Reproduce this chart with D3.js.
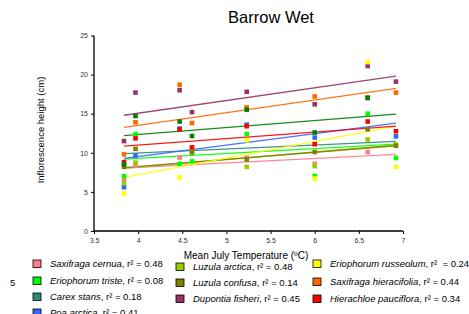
<!DOCTYPE html>
<html>
<head>
<meta charset="utf-8">
<script src="https://cdn.jsdelivr.net/npm/d3@7"></script>
<style>
  body { margin: 0; background: #fff; }
  text { font-family: Arial, "Liberation Sans", sans-serif; }
</style>
</head>
<body>
<svg id="chart" width="469" height="314"></svg>
<script>
// July temperatures of the sampled years (x positions of the point columns)
const temps = [3.84, 3.97, 4.47, 4.61, 5.23, 6.0, 6.6, 6.92];

const species = ["Saxifraga cernua", "Eriophorum triste", "Carex stans", "Poa arctica",
  "Luzula arctica", "Luzula confusa", "Dupontia fisheri",
  "Eriophorum russeolum", "Saxifraga hieracifolia", "Hierachloe pauciflora", ""];
const r2Labels = ["0.48", "0.08", "0.18", "0.41", "0.48", "0.14", "0.45", "0.24", "0.44", "0.34", ""];
const colors = ["#ff7c8c", "#00ff00", "#2a8a7a", "#3366ff", "#99cc00", "#808000", "#993366",
  "#ffff00", "#ff6600", "#ff0000", "#008000"];

// inflorescence height per species, one value per temperature (null = no point)
const saxCernua   = [6.6, 8.4, 9.4, null, 9.35, 8.6, 10.1, null];
const erioTriste  = [7.0, 12.4, 8.6, 8.9, 12.4, 7.05, 15.0, 9.35];
const carexStans  = [null, null, null, null, null, null, null, null];
const poaArctica  = [5.6, 9.65, 13.1, null, 13.6, 11.95, null, 12.1];
const luzArctica  = [6.1, 8.75, null, 10.3, 8.2, 8.3, 11.7, 11.05];
const luzConfusa  = [8.2, 10.5, null, 10.05, 9.15, 10.1, 13.0, 10.9];
const dupFisheri  = [11.5, 17.7, 18.0, 15.2, 17.8, 16.2, 21.1, 19.1];
const erioRuss    = [4.8, null, 6.85, null, 11.6, 6.7, 21.6, 8.2];
const saxHierac   = [9.8, 13.9, 18.7, 13.8, 15.8, 17.2, 17.1, 17.7];
const hierPauci   = [8.8, 11.85, 13.0, 10.7, 13.4, 11.1, 14.0, 12.75];
const darkGreen   = [8.5, 14.7, 14.0, 12.15, 15.5, 12.6, 17.0, null];

const heights = [saxCernua, erioTriste, carexStans, poaArctica, luzArctica, luzConfusa,
  dupFisheri, erioRuss, saxHierac, hierPauci, darkGreen];

// fitted regression line, value at first and last temperature
const fitStart = [8.05, 9.2, 9.9, 9.3, 8.0, 8.1, 14.8, 6.85, 13.25, 10.85, 12.2];
const fitEnd   = [9.8, 11.1, 11.45, 13.8, 11.0, 10.9, 19.8, 13.4, 18.25, 13.4, 14.95];

const xTicks = [3.5, 4, 4.5, 5, 5.5, 6, 6.5, 7];
const yTicks = [0, 5, 10, 15, 20, 25];

const svg = d3.select("#chart");
const x = d3.scaleLinear().domain([3.5, 7]).range([94, 403]);
const y = d3.scaleLinear().domain([0, 25]).range([231, 35.5]);

// axes
const xAxis = svg.append("g")
  .attr("transform", `translate(0,${y(0)})`)
  .call(d3.axisBottom(x).tickValues(xTicks).tickSize(3).tickPadding(4)
    .tickFormat(d => d3.format("")(d)));
const yAxis = svg.append("g")
  .attr("transform", `translate(${x(3.5)},0)`)
  .call(d3.axisLeft(y).tickValues(yTicks).tickSize(3).tickPadding(3));

[xAxis, yAxis].forEach(a => {
  a.select(".domain").attr("stroke", "#000").attr("stroke-width", 1.3);
  a.selectAll(".tick line").attr("stroke", "#000");
  a.selectAll(".tick text").attr("font-size", 7).attr("fill", "#333")
    .attr("font-family", "Arial, 'Liberation Sans', sans-serif");
});
yAxis.select(".domain").attr("d", `M0,${y(25)}V${y(0)}`);
xAxis.select(".domain").attr("d", `M${x(3.5)},0H${x(7)}`);

// fit lines
const lines = svg.append("g");
species.forEach((s, i) => {
  lines.append("line")
    .attr("x1", x(temps[0])).attr("y1", y(fitStart[i]))
    .attr("x2", x(temps[temps.length - 1])).attr("y2", y(fitEnd[i]))
    .attr("stroke", colors[i])
    .attr("stroke-width", 1.3)
    .attr("opacity", 0.9);
});

// points
const pts = svg.append("g");
const sz = 4.6;
species.forEach((s, i) => {
  const rows = temps.map((t, j) => ({ t: t, v: heights[i][j] })).filter(d => d.v != null);
  pts.selectAll(null)
    .data(rows)
    .join("rect")
    .attr("x", d => x(d.t) - sz / 2)
    .attr("y", d => y(d.v) - sz / 2)
    .attr("width", sz)
    .attr("height", sz)
    .attr("fill", colors[i]);
});

// title and axis labels
svg.append("text").attr("x", 271).attr("y", 23).attr("text-anchor", "middle")
  .attr("font-size", 16.5).text("Barrow Wet");
svg.append("text").attr("x", 246).attr("y", 259).attr("text-anchor", "middle")
  .attr("font-size", 10).text("Mean July Temperature (ºC)");
svg.append("text").attr("transform", "translate(44,130) rotate(-90)")
  .attr("text-anchor", "middle").attr("font-size", 9.5)
  .text("Inflorescence height (cm)");

svg.append("text").attr("x", 10).attr("y", 286).attr("font-size", 9.5).text("5");

// legend, three columns
const legendPos = [
  [33, 264], [33, 281], [33, 297], [33, 313],
  [176, 267], [176, 283], [176, 299],
  [313, 264], [313, 282], [313, 299]
];
const legend = svg.append("g");
legendPos.forEach((p, i) => {
  const g = legend.append("g").attr("transform", `translate(${p[0]},${p[1]})`);
  g.append("rect").attr("x", 0).attr("y", -4).attr("width", 8).attr("height", 7.5)
    .attr("fill", colors[i]).attr("stroke", "#000").attr("stroke-width", 0.8);
  const t = g.append("text").attr("x", 17).attr("y", 3).attr("font-size", 9.5);
  t.append("tspan").attr("font-style", "italic").text(species[i]);
  t.append("tspan").text(i === 7 ? ", r²  = " + r2Labels[i] : ", r² = " + r2Labels[i])
    .attr("xml:space", "preserve");
});
</script>
</body>
</html>
